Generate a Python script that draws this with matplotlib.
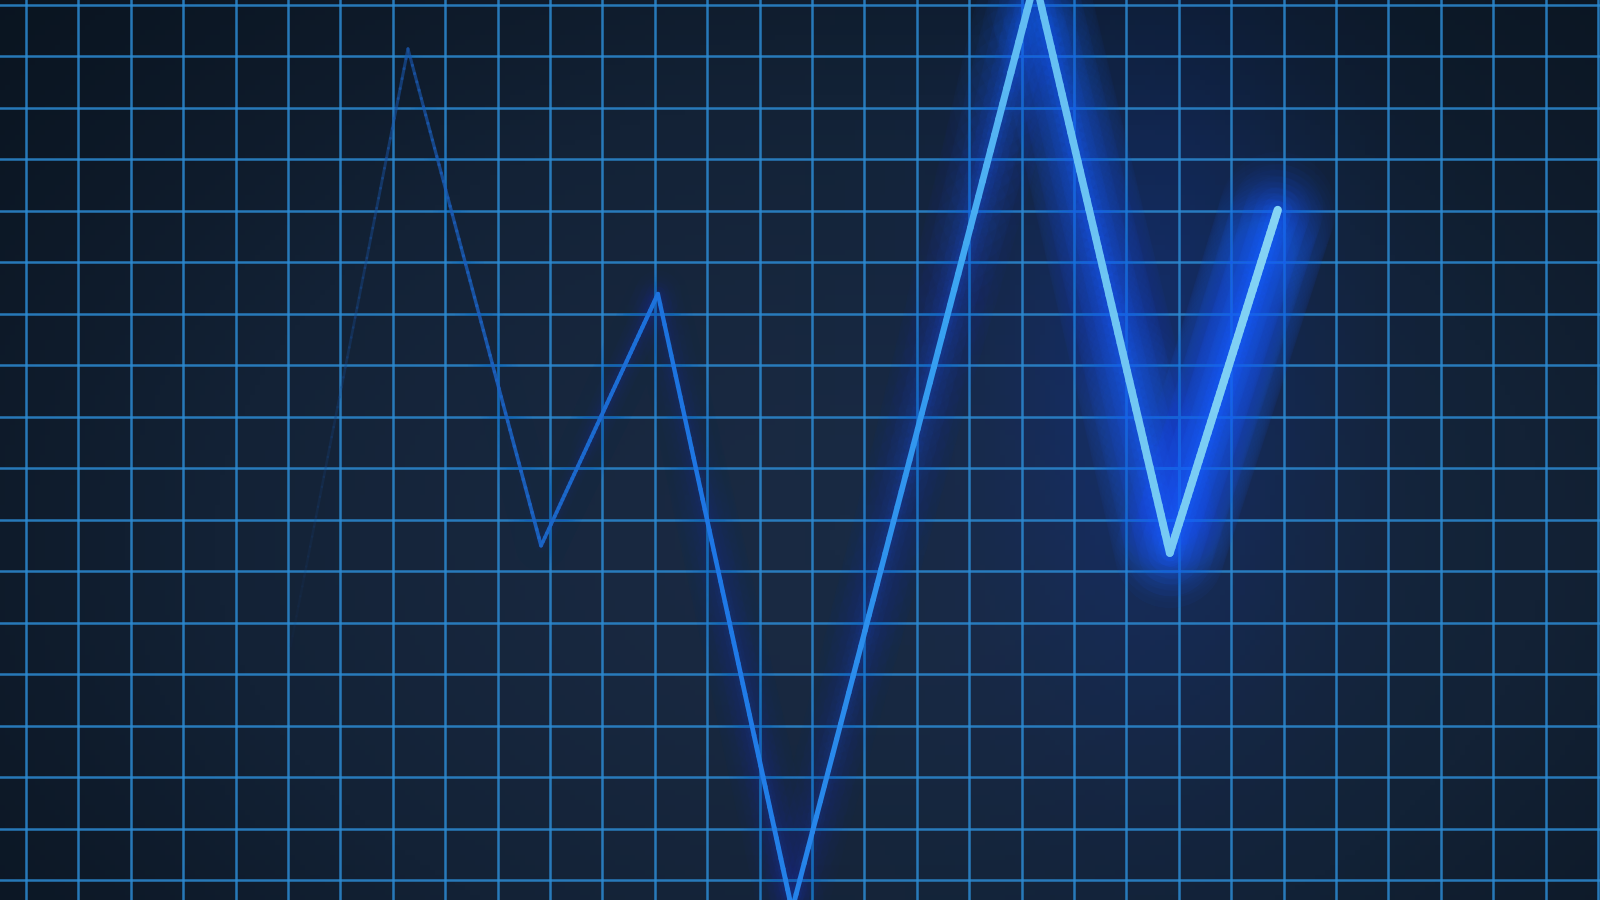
import numpy as np
import matplotlib
matplotlib.use('Agg')
import matplotlib.pyplot as plt
from matplotlib.collections import LineCollection
from matplotlib.colors import LinearSegmentedColormap

# signal vertices, in grid cells (x: time step, y: level)
t_vals = [5.05, 7.29, 9.83, 12.06, 14.62, 19.26, 21.83, 23.89]
level_vals = [4.55, 16.15, 6.50, 11.39, -0.57, 17.49, 6.36, 13.02]

# visible window, in grid cells
x_min, x_max = -0.496, 30.04
y_min, y_max = -0.379, 17.097

fig = plt.figure(figsize=(16, 9), dpi=100)
ax = fig.add_axes([0, 0, 1, 1])
ax.set_xlim(x_min, x_max)
ax.set_ylim(y_min, y_max)
ax.axis('off')

# background: dark navy with a lighter centre
gx, gy = np.meshgrid(np.linspace(0, 1, 320), np.linspace(0, 1, 180))
bg = np.exp(-(((gx - 0.55) / 0.5) ** 2 + ((gy - 0.4) / 0.6) ** 2))
bg_cmap = LinearSegmentedColormap.from_list('bg', ['#08111b', '#132236', '#1a2a43'])
ax.imshow(bg, extent=[x_min, x_max, y_min, y_max], cmap=bg_cmap, aspect='auto',
          origin='lower', zorder=0, vmin=0, vmax=1)

# soft blue halo behind the bright part of the trace
halo = np.exp(-(((gx - 0.72) / 0.11) ** 2 + ((gy - 0.6) / 0.4) ** 2))
halo_cmap = LinearSegmentedColormap.from_list('halo', [(0.05, 0.2, 0.6, 0.0), (0.06, 0.25, 0.8, 0.3)])
ax.imshow(halo, extent=[x_min, x_max, y_min, y_max], cmap=halo_cmap, aspect='auto',
          origin='lower', zorder=1, vmin=0, vmax=1)

# grid
for k in range(0, 31):
    ax.axvline(k, color='#2c8ad2', lw=1.8, alpha=0.85, zorder=2)
for k in range(-1, 18):
    ax.axhline(k, color='#2c8ad2', lw=1.8, alpha=0.85, zorder=2)

# trace, split finely so colour and width can change along it
xs, ys = [], []
for i in range(len(t_vals) - 1):
    s = np.linspace(0, 1, 60, endpoint=False)
    xs.append(t_vals[i] + (t_vals[i + 1] - t_vals[i]) * s)
    ys.append(level_vals[i] + (level_vals[i + 1] - level_vals[i]) * s)
xs.append([t_vals[-1]])
ys.append([level_vals[-1]])
xs = np.concatenate(xs)
ys = np.concatenate(ys)
pts = np.column_stack([xs, ys]).reshape(-1, 1, 2)
segs = np.concatenate([pts[:-1], pts[1:]], axis=1)
mid = (xs[:-1] + xs[1:]) / 2

# brightness along the trace (0 = faded, 1 = bright)
b = np.interp(mid, [5.0, 6.5, 7.3, 10.0, 12.0, 14.5, 17.0, 19.0, 24.0],
              [0.0, 0.12, 0.22, 0.35, 0.45, 0.55, 0.68, 0.88, 1.0])
line_cmap = LinearSegmentedColormap.from_list(
    'trace', ['#163f78', '#1a5cb8', '#1e78e6', '#3aa4f2', '#86d4f4'])
cols = line_cmap(b)
cols[:, 3] = np.clip(np.interp(mid, [5.0, 6.0, 7.3, 9.0, 12.0], [0.05, 0.3, 0.6, 0.85, 1.0]), 0, 1)
widths = 1.8 + 4.2 * b ** 1.5

# glow layers, strongest on the bright end
glow_rgb = matplotlib.colors.to_rgb('#1560ff')
for w, a in [(14.0, 0.025), (11.0, 0.03), (8.0, 0.04), (5.5, 0.05), (3.5, 0.07), (2.2, 0.09)]:
    gcols = np.zeros_like(cols)
    gcols[:, :3] = glow_rgb
    gcols[:, 3] = a * b ** 2
    ax.add_collection(LineCollection(segs, colors=gcols, linewidths=widths * w,
                                     capstyle='round', joinstyle='round', zorder=3))

ax.add_collection(LineCollection(segs, colors=cols, linewidths=widths,
                                 capstyle='round', joinstyle='round', zorder=4))

fig.savefig('out.png', dpi=100, facecolor='#0b1522')
